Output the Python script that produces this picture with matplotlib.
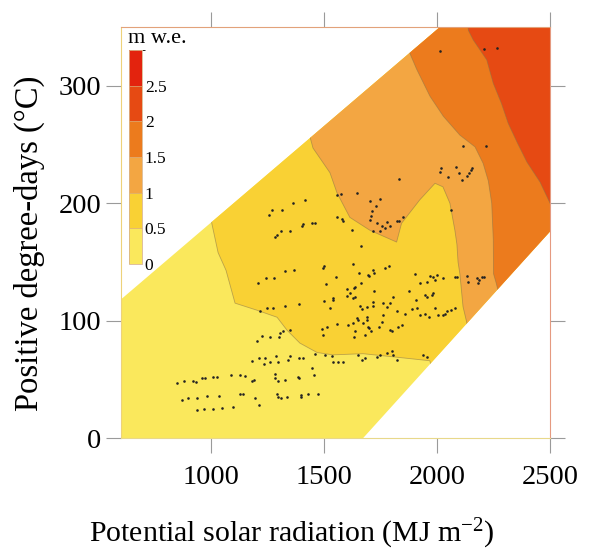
import numpy as np
import matplotlib
matplotlib.use("Agg")
import matplotlib.pyplot as plt
from matplotlib.colors import ListedColormap, BoundaryNorm
from matplotlib.cm import ScalarMappable
from matplotlib.patches import Polygon

plt.rcParams['font.family'] = ['Liberation Serif', 'DejaVu Serif']
plt.rcParams['mathtext.fontset'] = 'custom'
plt.rcParams['mathtext.rm'] = 'Liberation Serif'
plt.rcParams['mathtext.it'] = 'Liberation Serif:italic'

# mass balance classes (m w.e.)
levels = [0, 0.5, 1, 1.5, 2, 2.5, 3]
level_labels = ['0', '0.5', '1', '1.5', '2', '2.5']
colors = ['#FAE85C', '#F9D134', '#F3A642', '#EC7B1D', '#E64A13', '#E3230E']

# extent of the modelled domain
band_x = [600, 1672, 2500, 2500, 2013, 600]
band_y = [0, 0, 176, 350, 350, 118]

# class boundaries
b05_x = [995, 1003, 1031, 1066, 1106, 1203, 1292, 1336, 1393, 1469, 1539, 1672, 1822, 1968, 1990]
b05_y = [195, 183, 158, 143, 115, 109, 103, 92, 81, 73, 71, 72, 69, 66, 50]
b10_x = [1430, 1451, 1526, 1557, 1614, 1703, 1821, 1843, 1924, 1991, 2026, 2057, 2079, 2088, 2093, 2101, 2115, 2131, 2140]
b10_y = [262, 247, 226, 209, 188, 177, 167, 183, 203, 217, 214, 200, 177, 165, 150, 140, 112, 99, 85]
b15_x = [1862, 1870, 1910, 1969, 2028, 2101, 2168, 2204, 2227, 2242, 2249, 2250, 2262, 2280]
b15_y = [340, 332, 314, 291, 274, 258, 248, 234, 219, 200, 169, 140, 132, 118]
b20_x = [2132, 2139, 2160, 2220, 2249, 2285, 2315, 2354, 2398, 2456, 2510]
b20_y = [356, 347, 339, 322, 302, 285, 268, 252, 235, 218, 196]

# stake / grid points: potential solar radiation and positive degree-days
srad = [2013, 2209, 2264, 2113, 2215, 2017, 2011, 2082, 2097, 2050, 2109, 2156, 2149, 2141, 2131,
        1832, 1647, 1559, 1574, 1747, 1703, 1728, 1713, 1706, 1703, 1733, 1755, 1777, 1792, 1770,
        1747, 1718, 1821, 1833, 1851, 2060, 1622, 1556, 1578, 1583,
        1361, 1416, 1271, 1256, 1312, 1401, 1408, 1445, 1460, 1283, 1290, 1309, 1349, 1501, 1497,
        1327, 1368, 1206, 1244, 1278, 1508, 1501, 1541,
        1216, 1246, 1275, 1327, 1389, 1526, 1489, 1512, 1496, 1202, 1227, 1261, 1305, 1320, 1349,
        1302, 1182, 1212, 1239, 1261, 1235, 1287, 1297, 1342, 1349, 1389, 1405, 1460, 1504, 1534,
        1445, 1455,
        850, 881, 921, 933, 958, 973, 1010, 1025, 1088, 1128, 1150, 1182, 1190, 1283, 1283,
        1297, 1327, 1383, 1389,
        870, 896, 939, 983, 1035, 939, 970, 1007, 1047, 1098, 1128, 1143, 1194, 1213, 1293,
        1297, 1309, 1335, 1397, 1398, 1430, 1474,
        1662, 1629, 1656, 1700, 1718, 1722, 1770, 1789, 1553, 1600, 1615, 1632, 1663, 1637, 1627,
        1600, 1538,
        1659, 1666, 1691, 1715, 1718, 1759, 1777, 1792, 1806,
        1902, 1924, 1957, 1969, 1983, 1991, 1998, 2025,
        2079, 2087, 2131, 2138, 2175, 2187, 2197, 2208, 2182,
        1877, 1907, 1947, 1954, 1983, 1979,
        1821, 1858, 1888, 1910, 1924, 1947, 1966, 1991, 2005, 2035, 2045, 2060, 2079, 2028,
        1556, 1607, 1629, 1651, 1673, 1688, 1700, 1706, 1681, 1637, 1633, 1745, 1755, 1762, 1792,
        1800, 1829, 1844,
        1651, 1666, 1681, 1733, 1747, 1777, 1799, 1806, 1821, 1939, 1954, 1541, 1563, 1585,
        1637, 1644, 1689, 1696, 1696, 1721]
pdd = [330, 331, 332, 249, 249, 230, 227, 231, 226, 222, 220, 230, 228, 226, 223,
       221, 209, 207, 208, 204, 202, 198, 193, 189, 186, 183, 181, 184, 181, 179,
       176, 176, 185, 185, 188, 194, 177, 188, 187, 185,
       200, 203, 194, 190, 194, 181, 182, 183, 183, 171, 173, 176, 176, 147, 145,
       142, 143, 132, 136, 136, 131, 117, 119,
       108, 111, 111, 113, 114, 111, 93, 95, 88, 83, 87, 86, 90, 91, 92,
       86, 66, 68, 68, 65, 63, 70, 65, 67, 70, 68, 68, 72, 71, 70,
       60, 54,
       47, 49, 49, 48, 51, 51, 52, 52, 54, 54, 53, 49, 50, 55, 51,
       49, 50, 52, 51,
       33, 34, 34, 36, 36, 24, 25, 25, 26, 27, 38, 38, 34, 28, 38,
       35, 34, 35, 37, 35, 38, 38,
       164, 148, 141, 138, 143, 141, 145, 147, 137, 127, 124, 128, 132, 120, 119,
       121, 118,
       113, 110, 112, 113, 116, 115, 112, 115, 120,
       140, 132, 133, 138, 137, 135, 139, 136,
       137, 137, 138, 133, 136, 135, 137, 137, 132,
       125, 118, 122, 120, 124, 122,
       108, 106, 110, 111, 105, 106, 103, 111, 105, 106, 108, 109, 111, 105,
       97, 96, 98, 101, 98, 101, 94, 91, 88, 91, 86, 95, 99, 105, 92,
       91, 95, 96,
       71, 67, 68, 69, 71, 73, 74, 71, 67, 71, 69, 65, 65, 65,
       129, 102, 103, 95, 139, 125]

fig = plt.figure(figsize=(5.97, 5.5), dpi=100)
ax = fig.add_axes([0.2022, 0.2031, 0.7191, 0.7478])
ax.set_xlim(600, 2500)
ax.set_ylim(0, 350)

band = Polygon(np.column_stack([band_x, band_y]), closed=True,
               facecolor=colors[0], edgecolor='none', zorder=1)
ax.add_patch(band)

bounds = [(b05_x, b05_y), (b10_x, b10_y), (b15_x, b15_y), (b20_x, b20_y)]
for k, (bx, by) in enumerate(bounds):
    pts = list(zip(bx, by)) + [(3000, -100), (3000, 500), (bx[0], 500)]
    p = Polygon(pts, closed=True, facecolor=colors[k + 1], edgecolor='none', zorder=1.5 + k * 0.1)
    ax.add_patch(p)
    p.set_clip_path(band)
    ln, = ax.plot(bx, by, color='#8a7448', lw=0.6, alpha=0.55, zorder=2)
    ln.set_clip_path(band)

ax.scatter(srad, pdd, s=3.5, c='#222222', linewidths=0, zorder=3)

ax.set_xticks([1000, 1500, 2000, 2500])
ax.set_yticks([0, 100, 200, 300])
ax.tick_params(which='both', direction='out', length=11, width=0.8, color='#9a9a9a',
               top=True, right=True, labelsize=20.5)
ax.tick_params(axis='x', pad=8)
ax.tick_params(axis='y', pad=3)

ax.spines['left'].set_color('#EDD27A')
ax.spines['top'].set_color('#E2A27A')
ax.spines['right'].set_color('#E59A80')
ax.spines['bottom'].set_color('#E8D88A')
for s in ax.spines.values():
    s.set_linewidth(0.8)

ax.set_xlabel('Potential solar radiation (MJ m$^{-2}$)', fontsize=21.5)
ax.set_ylabel('Positive degree-days (\u00b0C)', fontsize=23.5)
ax.xaxis.set_label_coords(0.399, -0.19)
ax.yaxis.set_label_coords(-0.177, 0.474)

# legend colour bar inside the plot
cmap = ListedColormap(colors)
norm = BoundaryNorm(levels, cmap.N)
cax = ax.inset_axes([0.0193, 0.4238, 0.0303, 0.5202])
cb = fig.colorbar(ScalarMappable(norm=norm, cmap=cmap), cax=cax,
                  ticks=levels[:-1], drawedges=True)
cb.set_ticklabels(level_labels)
cb.outline.set_edgecolor('#d9b48a')
cb.outline.set_linewidth(0.6)
cb.dividers.set_color('#d9a77a')
cb.dividers.set_linewidth(0.5)
cax.tick_params(length=0, labelsize=12.5, pad=2)
ax.text(0.017, 0.973, 'm w.e.', transform=ax.transAxes, fontsize=16,
        ha='left', va='center')

fig.savefig('out.png', dpi=100)
